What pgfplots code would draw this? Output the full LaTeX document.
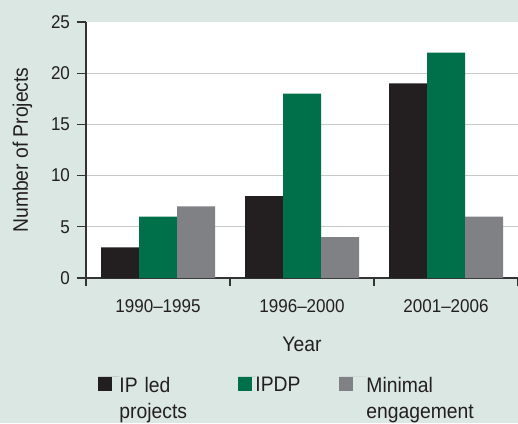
\documentclass[border=0pt]{standalone}
\usepackage{fontspec}
\setmainfont{Liberation Sans}[FakeStretch=0.92]
\usepackage{pgfplots}
\pgfplotsset{compat=1.18}
\definecolor{bg}{HTML}{DBE7E2}
\definecolor{cblack}{HTML}{231F20}
\definecolor{cgreen}{HTML}{00704A}
\definecolor{cgray}{HTML}{808184}
\definecolor{gridc}{HTML}{C8C8C8}
\definecolor{axisc}{HTML}{333333}
\definecolor{textc}{HTML}{231F20}
\begin{document}
\begin{tikzpicture}
\fill[bg] (0pt,0pt) rectangle (259pt,211.5pt);
\useasboundingbox (0pt,0pt) rectangle (259pt,211.5pt);
\begin{axis}[
  at={(43pt,72.5pt)}, anchor=south west,
  scale only axis, width=216pt, height=128pt,
  ybar=0pt, bar width=19pt,
  xmin=-0.5, xmax=2.5, ymin=0, ymax=25,
  axis x line*=bottom, axis y line*=left,
  axis line style={axisc, line width=0.7pt},
  axis background/.style={fill=white},
  ytick={0,5,10,15,20}, extra y ticks={25}, extra y tick style={grid=none},
  ymajorgrids, grid style={gridc, line width=0.6pt},
  xtick={0,1,2}, xticklabels={1990--1995,1996--2000,2001--2006},
  minor xtick={-0.5,0.5,1.5,2.5},
  major x tick style={draw=none},
  tick align=outside,
  major tick length=4.5pt, minor tick length=4pt,
  tick style={axisc, line width=0.6pt},
  /pgf/number format/assume math mode=true,
  ticklabel style={font=\fontsize{9.25}{11}\selectfont, text=textc},
  xticklabel style={yshift=-3pt},
  label style={font=\fontsize{10.5}{12}\selectfont, text=textc},
  xlabel={Year}, ylabel={Number of Projects},
  xlabel style={yshift=-5pt},
  ylabel shift=-6.5pt,
  legend columns=3,
  legend style={at={(rel axis cs:0.0278,-0.383)}, anchor=north west,
    draw=none, fill=none, inner sep=0pt, column sep=0pt,
    font=\fontsize{10.5}{13}\selectfont, text=textc,
    nodes={anchor=north west, inner sep=0pt, align=left, text depth=0pt},
    cells={anchor=north west, inner sep=0pt, align=left},
    /tikz/column 2/.style={text width=59.5pt},
    /tikz/column 4/.style={text width=42pt},
    /tikz/column 6/.style={text width=75pt}},
]
\addplot[fill=cblack, draw=none,
  legend image code/.code={\fill[cblack] (0pt,-0.5pt) rectangle (7pt,-7.5pt); \path (0pt,0pt) -- (10.5pt,0pt);}]
  coordinates {(0,3) (1,8) (2,19)};
\addplot[fill=cgreen, draw=none,
  legend image code/.code={\fill[cgreen] (0pt,-0.5pt) rectangle (7pt,-7.5pt); \path (0pt,0pt) -- (8.5pt,0pt);}]
  coordinates {(0,6) (1,18) (2,22)};
\addplot[fill=cgray, draw=none,
  legend image code/.code={\fill[cgray] (0pt,-0.5pt) rectangle (7pt,-7.5pt); \path (0pt,0pt) -- (13.5pt,0pt);}]
  coordinates {(0,7) (1,4) (2,6)};
\legend{IP led\\projects, IPDP, Minimal\\engagement}
\end{axis}
\end{tikzpicture}
\end{document}
